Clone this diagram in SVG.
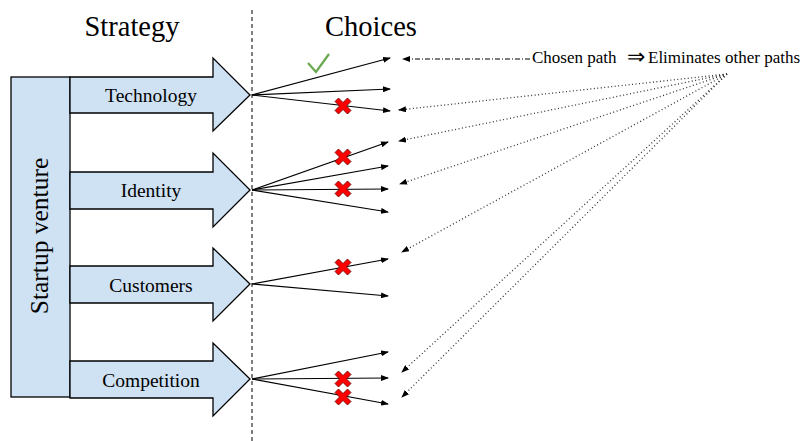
<svg xmlns="http://www.w3.org/2000/svg" xmlns:xlink="http://www.w3.org/1999/xlink" width="803" height="441" viewBox="0 0 803 441">
<style>
text{font-family:'Liberation Serif','Times New Roman',serif;fill:#000}
.box{fill:#cfe2f3;stroke:#000;stroke-width:1.3}
.lbl{font-size:19.5px}
.leg{font-size:17px}
.fan{stroke:#000;stroke-width:1.2;fill:none;marker-end:url(#ah)}
.dot{stroke:#333;stroke-width:1.3;stroke-dasharray:1 2.5;fill:none;marker-end:url(#ah)}
</style>
<defs>
<marker id="ah" markerWidth="8" markerHeight="6" refX="7" refY="3" orient="auto" markerUnits="userSpaceOnUse">
<path d="M0,0 L8,3 L0,6 Z" fill="#000"/>
</marker>
<polygon id="x" points="-8,-4.5 -4.5,-8 0,-3.5 4.5,-8 8,-4.5 3.5,0 8,4.5 4.5,8 0,3.5 -4.5,8 -8,4.5 -3.5,0" fill="#f00" stroke="#600" stroke-width="0.8"/>
</defs>
<rect width="803" height="441" fill="#fff"/>
<text x="132" y="36" font-size="28.5" text-anchor="middle">Strategy</text>
<text x="371" y="36" font-size="28.5" text-anchor="middle">Choices</text>
<line x1="252" y1="10" x2="252" y2="441" stroke="#000" stroke-width="1" stroke-dasharray="4 3"/>
<g id="startup">
<rect class="box" x="11" y="77" width="59" height="320"/>
<text x="0" y="0" font-size="25.5" text-anchor="middle" transform="translate(48,236) rotate(-90)">Startup venture</text>
</g>
<g id="technology">
<polygon class="box" points="70,77 213,77 213,58 250,95 213,131 213,113 70,113"/>
<text class="lbl" x="151" y="102" text-anchor="middle">Technology</text>
</g>
<g id="identity">
<polygon class="box" points="70,172 213,172 213,153 250,190 213,227 213,209 70,209"/>
<text class="lbl" x="151" y="197" text-anchor="middle">Identity</text>
</g>
<g id="customers">
<polygon class="box" points="70,266 213,266 213,248 250,284 213,321 213,303 70,303"/>
<text class="lbl" x="151" y="292" text-anchor="middle">Customers</text>
</g>
<g id="competition">
<polygon class="box" points="70,361 213,361 213,343 250,379 213,416 213,398 70,398"/>
<text class="lbl" x="151" y="387" text-anchor="middle">Competition</text>
</g>
<g id="connectors">
<line class="fan" x1="252" y1="95" x2="390" y2="58"/>
<line class="fan" x1="252" y1="95" x2="390" y2="89"/>
<line class="fan" x1="252" y1="95" x2="390" y2="111"/>
<line class="fan" x1="252" y1="190" x2="388" y2="142"/>
<line class="fan" x1="252" y1="190" x2="388" y2="166"/>
<line class="fan" x1="252" y1="190" x2="388" y2="189"/>
<line class="fan" x1="252" y1="190" x2="388" y2="212"/>
<line class="fan" x1="252" y1="284" x2="388" y2="259"/>
<line class="fan" x1="252" y1="284" x2="388" y2="296"/>
<line class="fan" x1="252" y1="379" x2="388" y2="352"/>
<line class="fan" x1="252" y1="379" x2="388" y2="378"/>
<line class="fan" x1="252" y1="379" x2="388" y2="404"/>
<line x1="530" y1="59" x2="403" y2="59" stroke="#000" stroke-width="1" stroke-dasharray="5 2 1 2" marker-end="url(#ah)"/>
<line class="dot" x1="727" y1="74" x2="399" y2="110"/>
<line class="dot" x1="727" y1="74" x2="399" y2="141"/>
<line class="dot" x1="727" y1="74" x2="400" y2="184"/>
<line class="dot" x1="727" y1="74" x2="402" y2="252"/>
<line class="dot" x1="727" y1="74" x2="402" y2="372"/>
<line class="dot" x1="727" y1="74" x2="402" y2="397"/>
</g>
<g id="marks">
<path d="M308,63 L316,72 L329,54" fill="none" stroke="#6aa84f" stroke-width="2.2"/>
<use xlink:href="#x" x="343" y="106"/>
<use xlink:href="#x" x="343" y="157"/>
<use xlink:href="#x" x="343" y="189"/>
<use xlink:href="#x" x="343" y="267"/>
<use xlink:href="#x" x="343" y="379"/>
<use xlink:href="#x" x="343" y="397"/>
</g>
<g id="legend">
<text class="leg" x="532" y="63">Chosen path</text>
<text x="627" y="64" font-size="22">⇒</text>
<text class="leg" x="648" y="63">Eliminates other paths</text>
</g>
</svg>
